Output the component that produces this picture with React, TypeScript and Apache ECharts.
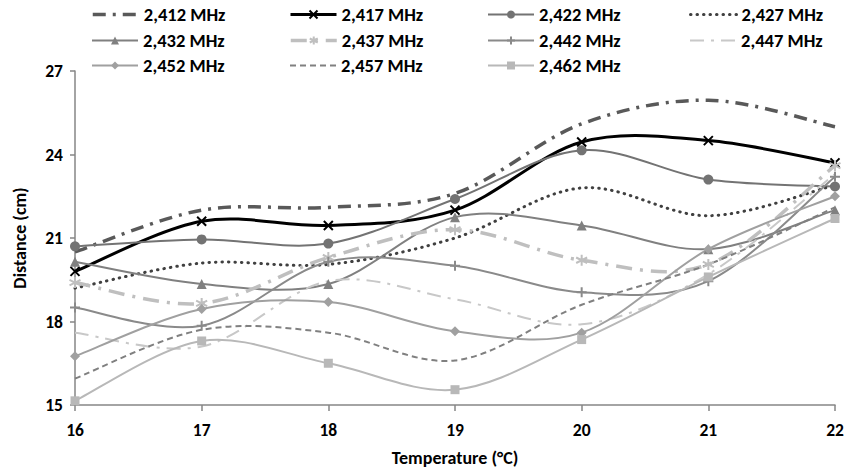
import React, { useEffect, useRef } from "react";
import * as echarts from "echarts";

const categories = ["16", "17", "18", "19", "20", "21", "22"];
const seriesNames = [
  "2,412 MHz", "2,417 MHz", "2,422 MHz", "2,427 MHz",
  "2,432 MHz", "2,437 MHz", "2,442 MHz", "2,447 MHz",
  "2,452 MHz", "2,457 MHz", "2,462 MHz",
];
const s2412 = [20.5, 22.0, 22.1, 22.6, 25.1, 25.95, 25.0];
const s2417 = [19.8, 21.6, 21.45, 22.0, 24.45, 24.5, 23.7];
const s2422 = [20.7, 20.95, 20.8, 22.4, 24.15, 23.1, 22.85];
const s2427 = [19.2, 20.1, 20.05, 21.0, 22.8, 21.8, 22.9];
const s2432 = [20.15, 19.35, 19.35, 21.75, 21.45, 20.6, 22.0];
const s2437 = [19.4, 18.65, 20.3, 21.3, 20.2, 20.05, 23.6];
const s2442 = [18.5, 17.85, 20.15, 20.0, 19.05, 19.45, 23.2];
const s2447 = [17.6, 17.1, 19.45, 18.8, 17.9, 19.7, 23.3];
const s2452 = [16.75, 18.45, 18.7, 17.65, 17.6, 20.6, 22.5];
const s2457 = [15.95, 17.7, 17.6, 16.6, 18.6, 20.05, 22.1];
const s2462 = [15.15, 17.3, 16.5, 15.55, 17.35, 19.6, 21.7];
const seriesData = [s2412, s2417, s2422, s2427, s2432, s2437, s2442, s2447, s2452, s2457, s2462];
const yTicks = { min: 15, max: 27, interval: 3 };

const FONT = "Carlito, Lato, sans-serif";

const styles: any[] = [
  { color: "#595959", width: 3.5, type: [13, 7, 3, 7], symbol: "none", size: 0 },
  { color: "#000000", width: 3, type: "solid", symbol: "path://M0,0L10,10M10,0L0,10", size: 9, stroke: true },
  { color: "#737373", width: 2, type: "solid", symbol: "circle", size: 10 },
  { color: "#404040", width: 3, type: [0.5, 6], symbol: "none", size: 0, cap: "round" },
  { color: "#808080", width: 2, type: "solid", symbol: "triangle", size: 10 },
  { color: "#bfbfbf", width: 3.5, type: [16, 8, 3, 8], symbol: "path://M5,0L5,10M0.7,2.5L9.3,7.5M0.7,7.5L9.3,2.5", size: 11, stroke: true },
  { color: "#8a8a8a", width: 2, type: "solid", symbol: "path://M5,0L5,10M0,5L10,5", size: 10, stroke: true },
  { color: "#c8c8c8", width: 2, type: [14, 7, 3, 7], symbol: "none", size: 0 },
  { color: "#a0a0a0", width: 2, type: "solid", symbol: "diamond", size: 10 },
  { color: "#808080", width: 2, type: [6, 4], symbol: "none", size: 0 },
  { color: "#b8b8b8", width: 2, type: "solid", symbol: "rect", size: 9 },
];

const colX = [91, 289, 487, 689];
const rowY = [5, 31, 56];

export default function App() {
  const ref = useRef<HTMLDivElement>(null);
  useEffect(() => {
    if (!ref.current) return;
    const chart = echarts.init(ref.current, undefined, { renderer: "svg" });

    const curveSeries = seriesNames.map((name, i) => {
      const st = styles[i];
      const vals = seriesData[i];
      return {
        name: "curve-" + name,
        type: "custom",
        z: 2,
        silent: true,
        data: vals.map((v, j) => [j, v]),
        encode: { x: 0, y: 1 },
        renderItem: (params: any, api: any) => {
          if (params.dataIndex !== 0) return null;
          const pts = vals.map((v, j) => api.coord([j, v]));
          let d = `M${pts[0][0]},${pts[0][1]}`;
          for (let k = 0; k < pts.length - 1; k++) {
            const p0 = pts[k - 1] || pts[k];
            const p1 = pts[k];
            const p2 = pts[k + 1];
            const p3 = pts[k + 2] || pts[k + 1];
            const c1x = p1[0] + (p2[0] - p0[0]) / 6;
            const c1y = p1[1] + (p2[1] - p0[1]) / 6;
            const c2x = p2[0] - (p3[0] - p1[0]) / 6;
            const c2y = p2[1] - (p3[1] - p1[1]) / 6;
            d += ` C${c1x},${c1y} ${c2x},${c2y} ${p2[0]},${p2[1]}`;
          }
          return {
            type: "path",
            shape: { pathData: d },
            style: {
              fill: "none",
              stroke: st.color,
              lineWidth: st.width,
              lineDash: Array.isArray(st.type) ? st.type : null,
              lineCap: st.cap || "butt",
              lineJoin: "round",
            },
          };
        },
      };
    });

    const markerSeries = seriesNames.map((name, i) => {
      const st = styles[i];
      return {
        name,
        type: "line",
        data: seriesData[i],
        symbol: st.symbol,
        symbolSize: st.size,
        showSymbol: st.symbol !== "none",
        z: 5,
        lineStyle: { color: st.color, width: st.width, type: st.type, cap: st.cap || "butt", opacity: 0 },
        itemStyle: st.stroke
          ? { color: st.color, borderColor: st.color, borderWidth: 2 }
          : { color: st.color, borderWidth: 0 },
      };
    });

    const legends = seriesNames.map((name, i) => {
      const st = styles[i];
      const item: any = {
        name,
        lineStyle: { color: st.color, width: st.width, type: st.type, cap: st.cap || "butt", opacity: 1 },
      };
      if (st.symbol === "none") item.itemStyle = { opacity: 0 };
      return {
        data: [item],
        left: colX[i % 4],
        top: rowY[Math.floor(i / 4)],
        padding: 0,
        itemWidth: 46,
        itemHeight: 10,
        itemGap: 0,
        textStyle: { fontFamily: FONT, fontWeight: "bold", fontSize: 18.5, color: "#000", padding: [0, 0, 0, 0] },
      };
    });

    chart.setOption({
      animation: false,
      backgroundColor: "#ffffff",
      legend: legends,
      grid: { left: 75, right: 13, top: 71, bottom: 67, containLabel: false },
      xAxis: {
        type: "category",
        data: categories,
        boundaryGap: false,
        name: "Temperature (°C)",
        nameLocation: "middle",
        nameGap: 44,
        nameTextStyle: { fontFamily: FONT, fontWeight: "bold", fontSize: 18, color: "#000" },
        axisLine: { lineStyle: { color: "#868686", width: 1.5 } },
        axisTick: { show: true, alignWithLabel: true, length: 6, lineStyle: { color: "#868686", width: 1.5 } },
        axisLabel: { fontFamily: FONT, fontWeight: "bold", fontSize: 17.5, color: "#000", margin: 16 },
        splitLine: { show: false },
      },
      yAxis: {
        type: "value",
        min: yTicks.min,
        max: yTicks.max,
        interval: yTicks.interval,
        name: "Distance (cm)",
        nameLocation: "middle",
        nameGap: 46,
        nameRotate: 90,
        nameTextStyle: { fontFamily: FONT, fontWeight: "bold", fontSize: 18, color: "#000" },
        axisLine: { show: true, lineStyle: { color: "#868686", width: 1.5 } },
        axisTick: { show: true, length: 5, lineStyle: { color: "#868686", width: 1.5 } },
        axisLabel: { fontFamily: FONT, fontWeight: "bold", fontSize: 17.5, color: "#000", margin: 12 },
        splitLine: { show: false },
      },
      series: [...curveSeries, ...markerSeries],
    });
    return () => chart.dispose();
  }, []);
  return <div ref={ref} style={{ width: 848, height: 472, position: "absolute", left: 0, top: 0 }} />;
}
